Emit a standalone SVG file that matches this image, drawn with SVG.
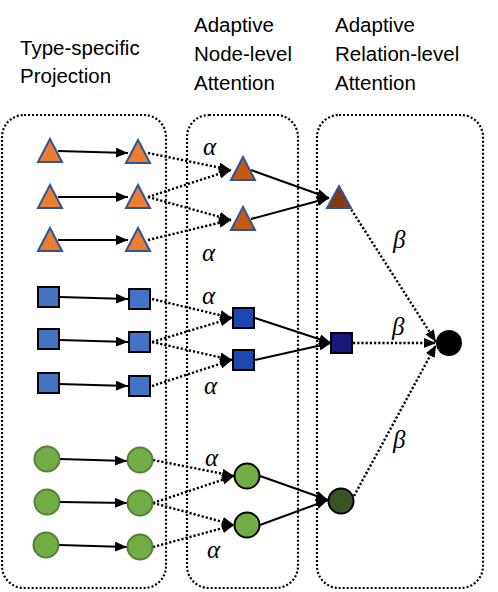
<svg xmlns="http://www.w3.org/2000/svg" width="498" height="592" viewBox="0 0 498 592">
<defs>
<marker id="ah" viewBox="0 0 12 10" refX="12" refY="5" markerWidth="12" markerHeight="10" markerUnits="userSpaceOnUse" orient="auto">
<path d="M0,0 L12,5 L0,10 Z" fill="#000"/>
</marker>
</defs>
<style>
.box{fill:none;stroke:#000;stroke-width:2.2;stroke-dasharray:2 2}
.hdr{font-family:"Liberation Sans",Arial,sans-serif;font-size:20.5px;fill:#000}
.gr{font-family:"Liberation Serif","Times New Roman",serif;font-style:italic;font-size:25px;fill:#000}
.sol{stroke:#000;stroke-width:2;fill:none;marker-end:url(#ah)}
.dot{stroke:#000;stroke-width:2.4;stroke-dasharray:2.2 2;fill:none;marker-end:url(#ah)}
.t1{fill:#ED7D31;stroke:#2F5597;stroke-width:2}
.t2{fill:#C55A11;stroke:#2F5597;stroke-width:2}
.t3{fill:#843C0C;stroke:#2F5597;stroke-width:2}
.s1{fill:#4472C4;stroke:#000;stroke-width:2}
.s2{fill:#1E46B0;stroke:#000;stroke-width:2}
.s3{fill:#18197A;stroke:#000;stroke-width:2}
.c1{fill:#70AD47;stroke:#548235;stroke-width:2}
.c2{fill:#70AD47;stroke:#000;stroke-width:2}
.c3{fill:#375623;stroke:#000;stroke-width:2}
</style>
<g id="headers">
<text class="hdr" x="20" y="55">Type-specific</text>
<text class="hdr" x="20" y="83">Projection</text>
<text class="hdr" x="194" y="32">Adaptive</text>
<text class="hdr" x="194" y="61">Node-level</text>
<text class="hdr" x="194" y="90">Attention</text>
<text class="hdr" x="335" y="32">Adaptive</text>
<text class="hdr" x="335" y="61">Relation-level</text>
<text class="hdr" x="335" y="90">Attention</text>
</g>
<g id="panels">
<rect id="panel-projection" class="box" x="2" y="115" width="164" height="473" rx="22"/>
<rect id="panel-node" class="box" x="187" y="115" width="111" height="473" rx="22"/>
<rect id="panel-relation" class="box" x="317" y="115" width="166" height="473" rx="22"/>
</g>
<g id="connectors">
<line class="sol" x1="58" y1="151" x2="128" y2="153"/>
<line class="sol" x1="58" y1="197" x2="128" y2="197"/>
<line class="sol" x1="58" y1="240" x2="128" y2="240"/>
<line class="dot" x1="148" y1="153" x2="231" y2="170"/>
<line class="dot" x1="148" y1="197" x2="231" y2="170"/>
<line class="dot" x1="148" y1="197" x2="231" y2="220"/>
<line class="dot" x1="148" y1="240" x2="231" y2="220"/>
<line class="sol" x1="251" y1="170" x2="329" y2="198"/>
<line class="sol" x1="251" y1="219" x2="329" y2="198"/>
<line class="sol" x1="60" y1="297" x2="128" y2="299"/>
<line class="sol" x1="60" y1="340" x2="128" y2="342"/>
<line class="sol" x1="59" y1="384" x2="128" y2="386"/>
<line class="dot" x1="152" y1="299" x2="232" y2="318"/>
<line class="dot" x1="152" y1="342" x2="232" y2="318"/>
<line class="dot" x1="152" y1="342" x2="232" y2="360"/>
<line class="dot" x1="152" y1="386" x2="232" y2="360"/>
<line class="sol" x1="255" y1="318" x2="331" y2="343"/>
<line class="sol" x1="255" y1="360" x2="331" y2="343"/>
<line class="sol" x1="60" y1="459" x2="127" y2="461"/>
<line class="sol" x1="60" y1="502" x2="127" y2="503"/>
<line class="sol" x1="59" y1="545" x2="127" y2="547"/>
<line class="dot" x1="153" y1="460" x2="234" y2="476"/>
<line class="dot" x1="153" y1="503" x2="234" y2="476"/>
<line class="dot" x1="153" y1="503" x2="234" y2="525"/>
<line class="dot" x1="153" y1="547" x2="234" y2="525"/>
<line class="sol" x1="260" y1="476" x2="328" y2="500"/>
<line class="sol" x1="260" y1="525" x2="328" y2="500"/>
<line class="dot" x1="349" y1="206" x2="436" y2="342"/>
<line class="dot" x1="353" y1="343" x2="436" y2="343"/>
<line class="dot" x1="354" y1="496" x2="436" y2="345"/>
</g>
<g id="labels">
<text class="gr" x="203" y="155">α</text>
<text class="gr" x="202" y="261">α</text>
<text class="gr" x="202" y="304">α</text>
<text class="gr" x="204" y="394">α</text>
<text class="gr" x="205" y="466">α</text>
<text class="gr" x="207" y="558">α</text>
<text class="gr" x="393" y="248">β</text>
<text class="gr" x="392" y="335">β</text>
<text class="gr" x="393" y="448">β</text>
</g>
<g id="node-tri-p1"><polygon class="t1" points="50,139 62,162 38,162"/></g>
<g id="node-tri-p2"><polygon class="t1" points="50,185 62,208 38,208"/></g>
<g id="node-tri-p3"><polygon class="t1" points="50,228 62,251 38,251"/></g>
<g id="node-tri-q1"><polygon class="t1" points="138,140 150,163 126,163"/></g>
<g id="node-tri-q2"><polygon class="t1" points="138,185 150,208 126,208"/></g>
<g id="node-tri-q3"><polygon class="t1" points="138,228 150,251 126,251"/></g>
<g id="node-tri-n1"><polygon class="t2" points="243,157 255,180 231,180"/></g>
<g id="node-tri-n2"><polygon class="t2" points="243,207 255,230 231,230"/></g>
<g id="node-tri-r"><polygon class="t3" points="339,186 351,208 327,208"/></g>
<g id="node-sq-p1"><rect class="s1" x="38" y="287" width="21" height="20"/></g>
<g id="node-sq-p2"><rect class="s1" x="38" y="329" width="21" height="20"/></g>
<g id="node-sq-p3"><rect class="s1" x="38" y="373" width="21" height="20"/></g>
<g id="node-sq-q1"><rect class="s1" x="129" y="289" width="21" height="20"/></g>
<g id="node-sq-q2"><rect class="s1" x="129" y="332" width="21" height="20"/></g>
<g id="node-sq-q3"><rect class="s1" x="129" y="376" width="21" height="20"/></g>
<g id="node-sq-n1"><rect class="s2" x="233" y="308" width="21" height="20"/></g>
<g id="node-sq-n2"><rect class="s2" x="233" y="350" width="21" height="20"/></g>
<g id="node-sq-r"><rect class="s3" x="331" y="333" width="21" height="20"/></g>
<g id="node-c-p1"><circle class="c1" cx="47" cy="459" r="12.5"/></g>
<g id="node-c-p2"><circle class="c1" cx="47" cy="502" r="12.5"/></g>
<g id="node-c-p3"><circle class="c1" cx="46" cy="545" r="12.5"/></g>
<g id="node-c-q1"><circle class="c1" cx="140" cy="460" r="12.5"/></g>
<g id="node-c-q2"><circle class="c1" cx="140" cy="503" r="12.5"/></g>
<g id="node-c-q3"><circle class="c1" cx="140" cy="547" r="12.5"/></g>
<g id="node-c-n1"><circle class="c2" cx="247" cy="476" r="12.5"/></g>
<g id="node-c-n2"><circle class="c2" cx="247" cy="525" r="12.5"/></g>
<g id="node-c-r"><circle class="c3" cx="341" cy="501" r="12.5"/></g>
<g id="node-target"><circle cx="449" cy="343" r="13" fill="#000"/></g>
</svg>
